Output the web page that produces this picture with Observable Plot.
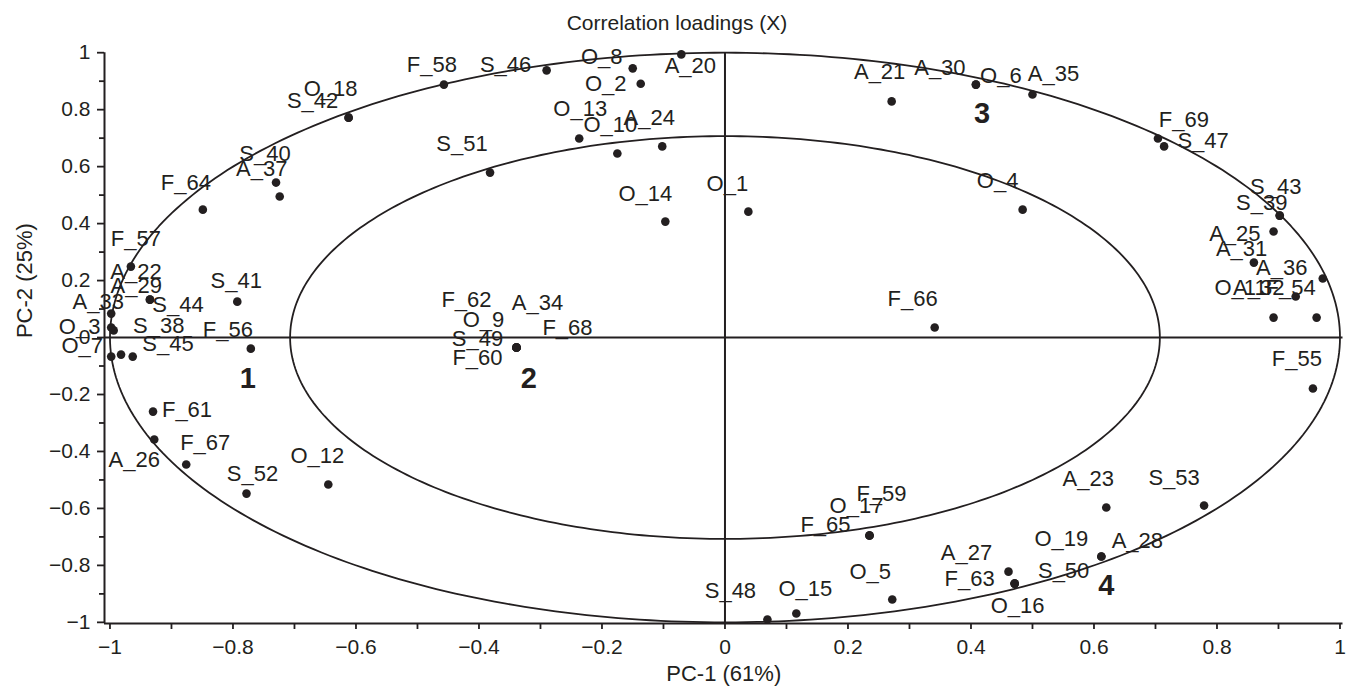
<!DOCTYPE html>
<html><head><meta charset="utf-8">
<script src="https://cdn.jsdelivr.net/npm/d3@7"></script>
<script src="https://cdn.jsdelivr.net/npm/@observablehq/plot@0.6"></script>
<style>
body{margin:0;background:#fff;font-family:"Liberation Sans",Arial,sans-serif;}
#title{width:1354px;height:40px;text-align:center;font-size:21px;line-height:24px;padding-top:11px;box-sizing:border-box;color:#231f20;}
#chart svg{display:block;}
</style></head><body>
<div id="title">Correlation loadings (X)</div>
<div id="chart"></div>
<script>
// ---- data ----
const names = ["O_1","O_2","O_3","O_4","O_5","O_6","O_7","O_8","O_9","O_10","O_11","O_12","O_13","O_14","O_15","O_16","O_17","O_18","O_19",
 "A_20","A_21","A_22","A_23","A_24","A_25","A_26","A_27","A_28","A_29","A_30","A_31","A_32","A_33","A_34","A_35","A_36","A_37",
 "S_38","S_39","S_40","S_41","S_42","S_43","S_44","S_45","S_46","S_47","S_48","S_49","S_50","S_51","S_52","S_53",
 "F_54","F_55","F_56","F_57","F_58","F_59","F_60","F_61","F_62","F_63","F_64","F_65","F_66","F_67","F_68","F_69"];
const pc1 = [0.038,-0.137,-0.994,0.484,0.272,0.408,-0.998,-0.150,-0.339,-0.175,0.892,-0.645,-0.237,-0.097,0.116,0.471,0.235,-0.612,0.612,
 -0.071,0.271,-0.935,0.620,-0.102,0.860,-0.928,0.461,0.612,-0.998,0.408,0.892,0.928,-0.998,-0.339,0.500,0.972,-0.724,
 -0.963,0.902,-0.730,-0.793,-0.612,0.902,-0.935,-0.982,-0.290,0.714,0.069,-0.339,0.471,-0.382,-0.778,0.779,
 0.962,0.956,-0.771,-0.966,-0.457,0.235,-0.339,-0.930,-0.339,0.471,-0.849,0.235,0.341,-0.876,-0.339,0.704];
const pc2 = [0.442,0.891,0.025,0.449,-0.920,0.888,-0.067,0.945,-0.035,0.646,0.070,-0.516,0.699,0.407,-0.969,-0.864,-0.695,0.772,-0.769,
 0.994,0.829,0.133,-0.597,0.671,0.263,-0.358,-0.822,-0.769,0.084,0.888,0.372,0.144,0.035,-0.035,0.853,0.207,0.495,
 -0.067,0.428,0.544,0.126,0.772,0.428,0.133,-0.060,0.938,0.671,-0.990,-0.035,-0.864,0.579,-0.548,-0.590,
 0.070,-0.179,-0.039,0.249,0.888,-0.695,-0.035,-0.260,-0.035,-0.864,0.449,-0.695,0.035,-0.446,-0.035,0.699];
const groupNames = ["1","2","3","4"];
const groupPc1 = [-0.776,-0.319,0.418,0.620];
const groupPc2 = [-0.144,-0.144,0.786,-0.870];
const circleRadii = [1, Math.SQRT1_2];
const majorTicks = [-1,-0.8,-0.6,-0.4,-0.2,0,0.2,0.4,0.6,0.8,1];
const majorTickLabels = ["\u22121","\u22120.8","\u22120.6","\u22120.4","\u22120.2","0","0.2","0.4","0.6","0.8","1"];
const minorTicks = [-0.9,-0.7,-0.5,-0.3,-0.1,0.1,0.3,0.5,0.7,0.9];
const title = "Correlation loadings (X)";
const xLabel = "PC-1 (61%)";
const yLabel = "PC-2 (25%)";

// ---- layout (label nudges in pixels, same order as names) ----
const labelNudge = [[-21,-28],[-35,0],[-34,-3],[-25,-29],[-22,-28],[25,-9],[-29,-11],[-31,-11],[-33,-28],[-7,-29],[-33,-30],[-11,-29],[1,-29],[-20,-28],[9,-25],[3,22],[-13,-30],[-18,-29],[-40,-18],
 [9,12],[-12,-29],[-14,-28],[-18,-29],[-13,-28],[-19,-29],[-20,20],[-42,-19],[36,-16],[25,-28],[-36,-17],[-32,17],[-37,-9],[-13,-26],[21,-45],[21,-21],[-41,-11],[-18,-28],
 [26,-31],[-18,-13],[-11,-29],[-1,-21],[-36,-17],[-4,-29],[28,5],[47,-11],[-41,-5],[39,-5],[-37,-29],[-39,-9],[49,-13],[-28,-29],[6,-20],[-30,-28],
 [-26,-30],[-16,-30],[-23,-19],[5,-28],[-12,-20],[12,-42],[-39,10],[34,-2],[-50,-48],[-45,-5],[-17,-27],[-44,-11],[-22,-29],[19,-22],[51,-20],[26,-18]];

document.getElementById("title").textContent = title;
const ink = "#231f20";
const xDom = [-1.0089, 1.0049], yDom = [-1.004, 1];
const tickLabelMap = new Map(majorTicks.map((t, i) => [t, majorTickLabels[i]]));

const circlePts = [];
circleRadii.forEach((r, k) => {
  for (let a = 0; a <= 360; a += 1) {
    const t = a * Math.PI / 180;
    circlePts.push({k, x: r * Math.cos(t), y: r * Math.sin(t)});
  }
});
const idx = names.map((_, i) => i);

const marks = [
  Plot.line(circlePts, {x: "x", y: "y", z: "k", stroke: ink, strokeWidth: 1.8}),
  Plot.ruleY([0], {x1: xDom[0], x2: xDom[1], stroke: ink, strokeWidth: 2}),
  Plot.ruleX([0], {y1: yDom[0], y2: yDom[1], stroke: ink, strokeWidth: 2}),
  Plot.ruleX([xDom[0]], {y1: yDom[0], y2: yDom[1], stroke: ink, strokeWidth: 2}),
  Plot.ruleY([yDom[0]], {x1: xDom[0], x2: xDom[1], stroke: ink, strokeWidth: 2}),
  Plot.axisX(majorTicks, {tickSize: 6, tickPadding: 10, fontSize: 21, label: null, stroke: ink, fill: ink, strokeWidth: 1.8, tickFormat: d => tickLabelMap.get(d)}),
  Plot.axisX(minorTicks, {tickSize: 6, label: null, stroke: ink, strokeWidth: 1.8, tickFormat: () => ""}),
  Plot.axisY(majorTicks, {tickSize: 7, tickPadding: 7, fontSize: 21, label: null, stroke: ink, fill: ink, strokeWidth: 1.8, tickFormat: d => tickLabelMap.get(d)}),
  Plot.axisY(minorTicks, {tickSize: 5, label: null, stroke: ink, strokeWidth: 1.8, tickFormat: () => ""}),
  Plot.dot(idx, {x: i => pc1[i], y: i => pc2[i], r: 4.3, fill: ink, stroke: null}),
  ...idx.map(i => Plot.text([i], {x: i => pc1[i], y: i => pc2[i], text: i => names[i], dx: labelNudge[i][0], dy: labelNudge[i][1], fontSize: 22, fill: ink})),
  Plot.text(groupNames, {x: (d, i) => groupPc1[i], y: (d, i) => groupPc2[i], text: d => d, fontSize: 29, fontWeight: "bold", fill: ink}),
  Plot.text([xLabel], {frameAnchor: "bottom", dy: 57, fontSize: 22, fill: ink}),
  Plot.text([yLabel], {frameAnchor: "left", dx: -80, rotate: -90, fontSize: 22, fill: ink})
];

const chart = Plot.plot({
  width: 1354, height: 652,
  marginLeft: 104, marginRight: 11.5, marginTop: 12.2, marginBottom: 69,
  x: {domain: xDom}, y: {domain: yDom},
  style: {fontFamily: "'Liberation Sans', Arial, sans-serif", background: "#fff", color: ink, overflow: "visible"},
  marks
});
document.getElementById("chart").appendChild(chart);
</script>
</body></html>
